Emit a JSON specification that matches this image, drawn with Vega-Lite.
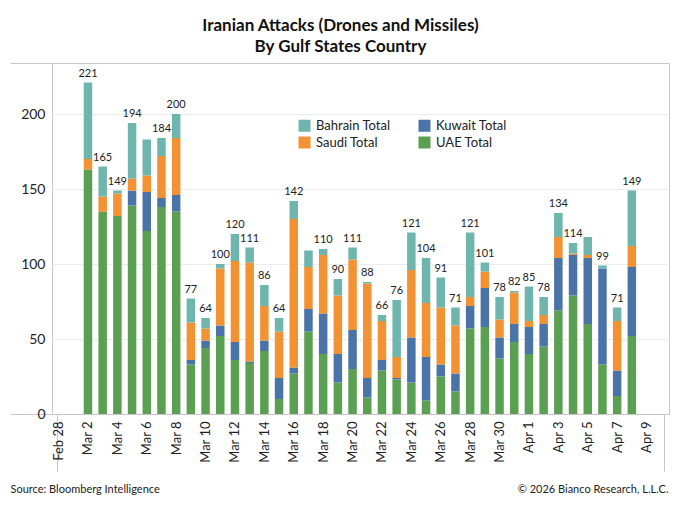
{
  "$schema": "https://vega.github.io/schema/vega-lite/v6.json",
  "width": 617,
  "height": 351,
  "autosize": {"type": "none"},
  "padding": {"left": 52, "top": 63, "right": 11, "bottom": 96},
  "background": "#ffffff",
  "title": {
    "text": ["Iranian Attacks (Drones and Missiles)", "By Gulf States Country"],
    "font": "Lato",
    "fontSize": 17,
    "fontWeight": "bold",
    "color": "#111111",
    "anchor": "middle",
    "dx": -20,
    "offset": 7,
    "lineHeight": 21
  },
  "config": {
    "view": {"stroke": "#c8c8c8"},
    "font": "Lato"
  },
  "data": {
    "values": [
      {"date": "2026-03-02", "UAE Total": 163, "Kuwait Total": 0, "Saudi Total": 7, "Bahrain Total": 51, "label": 221},
      {"date": "2026-03-03", "UAE Total": 135, "Kuwait Total": 0, "Saudi Total": 10, "Bahrain Total": 20, "label": 165},
      {"date": "2026-03-04", "UAE Total": 132, "Kuwait Total": 0, "Saudi Total": 15, "Bahrain Total": 2, "label": 149},
      {"date": "2026-03-05", "UAE Total": 139, "Kuwait Total": 10, "Saudi Total": 8, "Bahrain Total": 37, "label": 194},
      {"date": "2026-03-06", "UAE Total": 122, "Kuwait Total": 26, "Saudi Total": 11, "Bahrain Total": 24, "label": null},
      {"date": "2026-03-07", "UAE Total": 138, "Kuwait Total": 6, "Saudi Total": 28, "Bahrain Total": 12, "label": 184},
      {"date": "2026-03-08", "UAE Total": 135, "Kuwait Total": 11, "Saudi Total": 38, "Bahrain Total": 16, "label": 200},
      {"date": "2026-03-09", "UAE Total": 33, "Kuwait Total": 3, "Saudi Total": 25, "Bahrain Total": 16, "label": 77},
      {"date": "2026-03-10", "UAE Total": 44, "Kuwait Total": 5, "Saudi Total": 8, "Bahrain Total": 7, "label": 64},
      {"date": "2026-03-11", "UAE Total": 52, "Kuwait Total": 7, "Saudi Total": 38, "Bahrain Total": 3, "label": 100},
      {"date": "2026-03-12", "UAE Total": 36, "Kuwait Total": 12, "Saudi Total": 54, "Bahrain Total": 18, "label": 120},
      {"date": "2026-03-13", "UAE Total": 34, "Kuwait Total": 1, "Saudi Total": 66, "Bahrain Total": 10, "label": 111},
      {"date": "2026-03-14", "UAE Total": 42, "Kuwait Total": 7, "Saudi Total": 23, "Bahrain Total": 14, "label": 86},
      {"date": "2026-03-15", "UAE Total": 10, "Kuwait Total": 14, "Saudi Total": 31, "Bahrain Total": 9, "label": 64},
      {"date": "2026-03-16", "UAE Total": 27, "Kuwait Total": 4, "Saudi Total": 99, "Bahrain Total": 12, "label": 142},
      {"date": "2026-03-17", "UAE Total": 55, "Kuwait Total": 15, "Saudi Total": 28, "Bahrain Total": 11, "label": null},
      {"date": "2026-03-18", "UAE Total": 40, "Kuwait Total": 27, "Saudi Total": 39, "Bahrain Total": 4, "label": 110},
      {"date": "2026-03-19", "UAE Total": 21, "Kuwait Total": 19, "Saudi Total": 39, "Bahrain Total": 11, "label": 90},
      {"date": "2026-03-20", "UAE Total": 30, "Kuwait Total": 26, "Saudi Total": 47, "Bahrain Total": 8, "label": 111},
      {"date": "2026-03-21", "UAE Total": 11, "Kuwait Total": 13, "Saudi Total": 63, "Bahrain Total": 1, "label": 88},
      {"date": "2026-03-22", "UAE Total": 29, "Kuwait Total": 7, "Saudi Total": 26, "Bahrain Total": 4, "label": 66},
      {"date": "2026-03-23", "UAE Total": 23, "Kuwait Total": 1, "Saudi Total": 14, "Bahrain Total": 38, "label": 76},
      {"date": "2026-03-24", "UAE Total": 21, "Kuwait Total": 30, "Saudi Total": 45, "Bahrain Total": 25, "label": 121},
      {"date": "2026-03-25", "UAE Total": 9, "Kuwait Total": 29, "Saudi Total": 36, "Bahrain Total": 30, "label": 104},
      {"date": "2026-03-26", "UAE Total": 25, "Kuwait Total": 8, "Saudi Total": 38, "Bahrain Total": 20, "label": 91},
      {"date": "2026-03-27", "UAE Total": 15, "Kuwait Total": 12, "Saudi Total": 32, "Bahrain Total": 12, "label": 71},
      {"date": "2026-03-28", "UAE Total": 57, "Kuwait Total": 15, "Saudi Total": 6, "Bahrain Total": 43, "label": 121},
      {"date": "2026-03-29", "UAE Total": 58, "Kuwait Total": 26, "Saudi Total": 11, "Bahrain Total": 6, "label": 101},
      {"date": "2026-03-30", "UAE Total": 37, "Kuwait Total": 14, "Saudi Total": 12, "Bahrain Total": 15, "label": 78},
      {"date": "2026-03-31", "UAE Total": 48, "Kuwait Total": 12, "Saudi Total": 21, "Bahrain Total": 1, "label": 82},
      {"date": "2026-04-01", "UAE Total": 40, "Kuwait Total": 18, "Saudi Total": 4, "Bahrain Total": 23, "label": 85},
      {"date": "2026-04-02", "UAE Total": 45, "Kuwait Total": 15, "Saudi Total": 6, "Bahrain Total": 12, "label": 78},
      {"date": "2026-04-03", "UAE Total": 69, "Kuwait Total": 35, "Saudi Total": 14, "Bahrain Total": 16, "label": 134},
      {"date": "2026-04-04", "UAE Total": 79, "Kuwait Total": 27, "Saudi Total": 1, "Bahrain Total": 7, "label": 114},
      {"date": "2026-04-05", "UAE Total": 60, "Kuwait Total": 44, "Saudi Total": 2, "Bahrain Total": 12, "label": null},
      {"date": "2026-04-06", "UAE Total": 33, "Kuwait Total": 64, "Saudi Total": 0, "Bahrain Total": 2, "label": 99},
      {"date": "2026-04-07", "UAE Total": 12, "Kuwait Total": 17, "Saudi Total": 33, "Bahrain Total": 9, "label": 71},
      {"date": "2026-04-08", "UAE Total": 52, "Kuwait Total": 46, "Saudi Total": 14, "Bahrain Total": 37, "label": 149}
    ]
  },
  "encoding": {
    "x": {
      "field": "date",
      "type": "temporal",
      "scale": {
        "type": "utc",
        "domain": [
          {"year": 2026, "month": 2, "date": 27, "hours": 21, "minutes": 26, "utc": true},
          {"year": 2026, "month": 4, "date": 10, "hours": 4, "minutes": 30, "utc": true}
        ]
      },
      "axis": {
        "values": [
          {"year": 2026, "month": 2, "date": 27, "hours": 21, "minutes": 26, "utc": true},
          {"year": 2026, "month": 2, "date": 28, "utc": true},
          {"year": 2026, "month": 3, "date": 2, "utc": true},
          {"year": 2026, "month": 3, "date": 4, "utc": true},
          {"year": 2026, "month": 3, "date": 6, "utc": true},
          {"year": 2026, "month": 3, "date": 8, "utc": true},
          {"year": 2026, "month": 3, "date": 10, "utc": true},
          {"year": 2026, "month": 3, "date": 12, "utc": true},
          {"year": 2026, "month": 3, "date": 14, "utc": true},
          {"year": 2026, "month": 3, "date": 16, "utc": true},
          {"year": 2026, "month": 3, "date": 18, "utc": true},
          {"year": 2026, "month": 3, "date": 20, "utc": true},
          {"year": 2026, "month": 3, "date": 22, "utc": true},
          {"year": 2026, "month": 3, "date": 24, "utc": true},
          {"year": 2026, "month": 3, "date": 26, "utc": true},
          {"year": 2026, "month": 3, "date": 28, "utc": true},
          {"year": 2026, "month": 3, "date": 30, "utc": true},
          {"year": 2026, "month": 4, "date": 1, "utc": true},
          {"year": 2026, "month": 4, "date": 3, "utc": true},
          {"year": 2026, "month": 4, "date": 5, "utc": true},
          {"year": 2026, "month": 4, "date": 7, "utc": true},
          {"year": 2026, "month": 4, "date": 9, "utc": true},
          {"year": 2026, "month": 4, "date": 10, "hours": 4, "minutes": 30, "utc": true}
        ],
        "labelExpr": "utchours(datum.value) != 0 ? '' : utcFormat(datum.value, '%b %-d')",
        "labelAngle": -90,
        "labelFont": "Lato",
        "labelFontSize": 13,
        "labelColor": "#222222",
        "labelOverlap": false,
        "labelFlush": false,
        "labelBound": false,
        "labelPadding": -50,
        "ticks": true,
        "tickSize": 57,
        "tickColor": {"condition": {"test": "utchours(datum.value) != 0", "value": "#c8c8c8"}, "value": "transparent"},
        "grid": false,
        "domain": false,
        "title": "Source: Bloomberg Intelligence",
        "titleFont": "Lato",
        "titleFontSize": 11,
        "titleFontWeight": "normal",
        "titleColor": "#222222",
        "titleAlign": "left",
        "titleBaseline": "middle",
        "titleX": -42,
        "titleY": 75
      }
    }
  },
  "layer": [
    {
      "transform": [
        {"fold": ["UAE Total", "Kuwait Total", "Saudi Total", "Bahrain Total"], "as": ["country", "attacks"]},
        {"window": [{"op": "row_number", "as": "stack_order"}]}
      ],
      "mark": {"type": "bar", "width": 8.5},
      "encoding": {
        "y": {
          "field": "attacks",
          "type": "quantitative",
          "stack": "zero",
          "scale": {"domain": [0, 234], "nice": false},
          "axis": {
            "values": [0, 50, 100, 150, 200, 234],
            "labelExpr": "datum.value > 220 ? '' : datum.label",
            "labelFont": "Lato",
            "labelFontSize": 14,
            "labelColor": "#222222",
            "labelPadding": -35,
            "tickSize": 42,
            "tickColor": {"condition": {"test": "datum.value == 0 || datum.value > 220", "value": "#c8c8c8"}, "value": "transparent"},
            "grid": true,
            "gridColor": {"condition": {"test": "datum.value == 0 || datum.value > 220", "value": "transparent"}, "value": "#ececec"},
            "domain": false,
            "title": "© 2026 Bianco Research, L.L.C.",
            "titleAngle": 0,
            "titleFont": "Lato",
            "titleFontSize": 11,
            "titleFontWeight": "normal",
            "titleColor": "#222222",
            "titleAlign": "right",
            "titleBaseline": "middle",
            "titleX": 616,
            "titleY": 426
          }
        },
        "color": {
          "field": "country",
          "type": "nominal",
          "scale": {
            "domain": ["Bahrain Total", "Saudi Total", "Kuwait Total", "UAE Total"],
            "range": ["#6db5ad", "#f39232", "#4a74a8", "#5ba052"]
          },
          "legend": {
            "orient": "none",
            "legendX": 246,
            "legendY": 56,
            "columns": 2,
            "title": null,
            "symbolType": "square",
            "symbolSize": 144,
            "symbolStrokeWidth": 0,
            "labelFont": "Lato",
            "labelFontSize": 13,
            "labelColor": "#222222",
            "labelOffset": 5,
            "columnPadding": 27,
            "rowPadding": 3,
            "padding": 0
          }
        },
        "order": {"field": "stack_order", "type": "quantitative"}
      }
    },
    {
      "transform": [{"filter": "datum.label != null"}],
      "mark": {"type": "text", "baseline": "bottom", "dy": -4, "font": "Lato", "fontSize": 11, "color": "#222222"},
      "encoding": {
        "y": {"field": "label", "type": "quantitative", "scale": {"domain": [0, 234], "nice": false}},
        "text": {"field": "label", "type": "quantitative"}
      }
    }
  ]
}
